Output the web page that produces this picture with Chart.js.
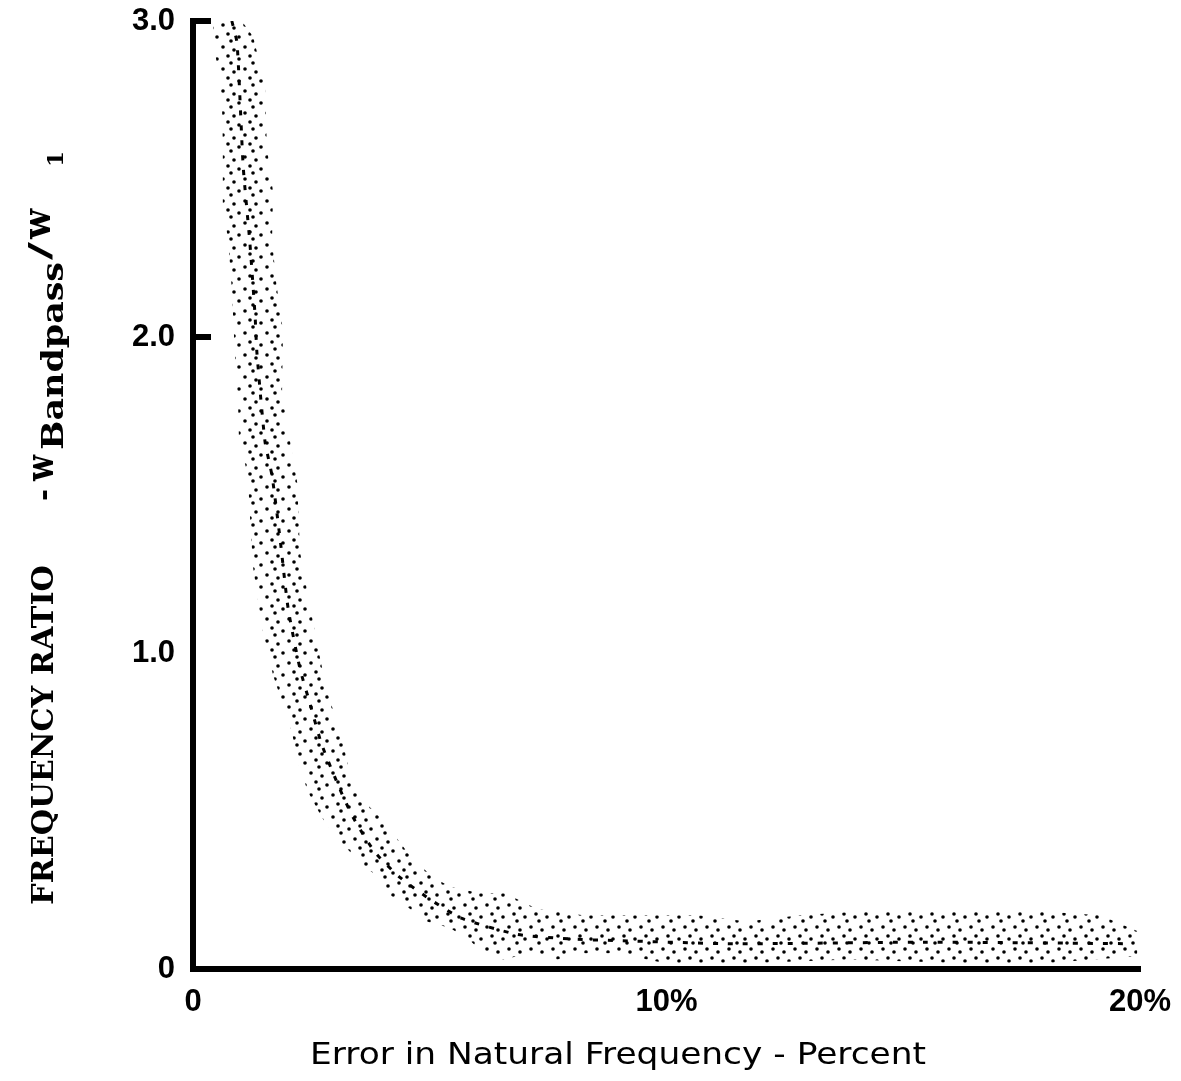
<!DOCTYPE html>
<html>
<head>
<meta charset="utf-8">
<title>Frequency ratio vs error in natural frequency</title>
<script src="https://cdn.jsdelivr.net/npm/chart.js@4.4.1/dist/chart.umd.min.js"></script>
<style>
  html, body { margin: 0; padding: 0; background: #fff; }
  #wrap { position: relative; width: 1181px; height: 1081px; }
</style>
</head>
<body>
<div id="wrap"><canvas id="chart"></canvas></div>
<script>
// scatter band: outer (right/upper) edge, inner (left/lower) edge
const upperX = [1.03, 1.27, 1.52, 1.56, 1.69, 1.67, 1.75, 1.90, 1.88, 2.05, 2.20, 2.26, 2.43, 2.66, 2.83, 3.15, 3.32, 3.48, 3.95, 4.27, 4.63, 5.07, 5.43, 6.06, 6.59, 7.27, 8.24, 9.29, 10.67, 11.70, 12.82, 13.88, 14.93, 15.99, 17.04, 18.10, 19.16, 19.94];
const upperY = [3.00, 2.95, 2.80, 2.60, 2.46, 2.31, 2.18, 2.02, 1.82, 1.67, 1.54, 1.32, 1.18, 1.00, 0.88, 0.73, 0.61, 0.55, 0.48, 0.42, 0.35, 0.29, 0.26, 0.24, 0.24, 0.19, 0.17, 0.17, 0.17, 0.15, 0.17, 0.18, 0.18, 0.18, 0.18, 0.18, 0.17, 0.12];
const lowerX = [0.42, 0.46, 0.61, 0.63, 0.63, 0.74, 0.82, 0.89, 0.95, 0.97, 1.16, 1.20, 1.27, 1.46, 1.69, 2.09, 2.20, 2.43, 2.72, 3.00, 3.32, 3.57, 3.84, 4.10, 4.41, 4.94, 5.43, 5.85, 6.06, 6.55, 7.12, 7.69, 8.24, 8.95, 9.93, 10.56, 11.97, 13.88, 15.99, 18.10, 19.94];
const lowerY = [3.00, 2.91, 2.75, 2.61, 2.41, 2.31, 2.15, 1.93, 1.80, 1.68, 1.56, 1.44, 1.27, 1.08, 0.93, 0.75, 0.66, 0.56, 0.48, 0.42, 0.37, 0.33, 0.30, 0.24, 0.21, 0.15, 0.13, 0.09, 0.06, 0.03, 0.05, 0.03, 0.05, 0.05, 0.02, 0.02, 0.02, 0.03, 0.02, 0.02, 0.04];

// darker clumps along the middle of the band
const centerX = [0.82, 0.93, 1.06, 1.20, 1.31, 1.35, 1.52, 1.67, 1.84, 2.01, 2.26, 2.47, 2.72, 3.10, 3.38, 3.84, 4.37, 5.01, 5.68, 6.84, 7.96, 8.95, 11.40, 15.50, 19.79];
const centerY = [3.00, 2.93, 2.54, 2.30, 2.07, 1.95, 1.67, 1.56, 1.36, 1.14, 0.95, 0.84, 0.71, 0.57, 0.48, 0.37, 0.29, 0.22, 0.16, 0.11, 0.095, 0.09, 0.08, 0.085, 0.08];

const xTicks = [0, 10, 20];
const xTickLabels = ['0', '10%', '20%'];
const yTicks = [0, 1, 2, 3];
const yTickLabels = ['0', '1.0', '2.0', '3.0'];
const yTickMarks = [2, 3];

const xTitle = 'Error in Natural Frequency - Percent';
// y title pieces: text, offset along the axis from the bottom, length, baseline shift, font size
const yTitleParts = [
  { text: 'FREQUENCY RATIO', at: 0, len: 340, shift: 0, size: 30 },
  { text: '-', at: 404, len: 12, shift: 0, size: 30 },
  { text: 'w', at: 424, len: 26, shift: 0, size: 40 },
  { text: 'Bandpass', at: 455, len: 188, shift: 10, size: 30 },
  { text: '/', at: 645, len: 18, shift: -3, size: 30 },
  { text: 'w', at: 666, len: 30, shift: -3, size: 40 },
  { text: '1', at: 738, len: 16, shift: 10, size: 22 },
];

const band = upperX.map((x, i) => ({ x, y: upperY[i] }))
  .concat(lowerX.map((x, i) => ({ x, y: lowerY[i] })).reverse());
const center = centerX.map((x, i) => ({ x, y: centerY[i] }));

// stippled fill like the halftone dots of the original
function stipple() {
  const c = document.createElement('canvas');
  c.width = 22;
  c.height = 22;
  const g = c.getContext('2d');
  g.fillStyle = '#000';
  [[3, 3], [14, 6], [8, 12], [19, 15], [11, 19]].forEach(([px, py]) => {
    g.beginPath();
    g.arc(px, py, 1.8, 0, Math.PI * 2);
    g.fill();
  });
  return g.createPattern(c, 'repeat');
}

const axisDecor = {
  id: 'axisDecor',
  afterDraw(chart) {
    const { ctx, scales: { x, y } } = chart;
    ctx.save();
    ctx.strokeStyle = '#000';
    ctx.lineWidth = 6;
    yTickMarks.forEach(v => {
      const py = y.getPixelForValue(v);
      ctx.beginPath();
      ctx.moveTo(x.left, py);
      ctx.lineTo(x.left + 18, py);
      ctx.stroke();
    });

    ctx.fillStyle = '#000';
    ctx.font = '30px "DejaVu Sans"';
    ctx.textAlign = 'left';
    ctx.textBaseline = 'middle';
    const tw = ctx.measureText(xTitle).width;
    ctx.save();
    ctx.translate(310, 1056);
    ctx.scale(616 / tw, 1);
    ctx.fillText(xTitle, 0, 0);
    ctx.restore();

    ctx.translate(53, 905);
    ctx.rotate(-Math.PI / 2);
    ctx.textBaseline = 'alphabetic';
    yTitleParts.forEach(p => {
      ctx.font = `bold ${p.size}px "DejaVu Serif"`;
      const w = ctx.measureText(p.text).width;
      ctx.save();
      ctx.translate(p.at, p.shift);
      ctx.scale(p.len / w, 1);
      ctx.fillText(p.text, 0, 0);
      ctx.restore();
    });
    ctx.restore();
  }
};

const tickFont = { family: '"Liberation Sans", sans-serif', size: 31, weight: 'bold' };

new Chart(document.getElementById('chart'), {
  type: 'line',
  data: {
    datasets: [{
      data: band,
      fill: 'shape',
      backgroundColor: stipple(),
      borderWidth: 0,
      pointRadius: 0,
      tension: 0,
    }, {
      data: center,
      fill: false,
      borderColor: '#000',
      borderWidth: 3,
      borderDash: [5, 10],
      pointRadius: 0,
      tension: 0.2,
    }]
  },
  options: {
    responsive: true,
    maintainAspectRatio: false,
    animation: false,
    layout: { padding: { top: 21, right: 41, left: 0, bottom: 0 } },
    plugins: { legend: { display: false }, tooltip: { enabled: false } },
    scales: {
      x: {
        type: 'linear',
        min: 0,
        max: 20,
        afterBuildTicks: s => { s.ticks = xTicks.map(v => ({ value: v })); },
        afterFit: s => { s.height = 112; s.paddingLeft = 0; s.paddingRight = 0; },
        ticks: {
          callback: v => xTickLabels[xTicks.indexOf(v)],
          color: '#000',
          font: tickFont,
          padding: 15,
          maxRotation: 0,
          autoSkip: false,
        },
        grid: { display: true, drawOnChartArea: false, drawTicks: false },
        border: { display: true, width: 6, color: '#000' },
      },
      y: {
        type: 'linear',
        min: 0,
        max: 3,
        afterBuildTicks: s => { s.ticks = yTicks.map(v => ({ value: v })); },
        afterFit: s => { s.width = 193; s.paddingTop = 0; s.paddingBottom = 0; },
        ticks: {
          callback: v => yTickLabels[yTicks.indexOf(v)],
          color: '#000',
          font: tickFont,
          padding: 18,
          autoSkip: false,
        },
        grid: { display: true, drawOnChartArea: false, drawTicks: false },
        border: { display: true, width: 6, color: '#000' },
      }
    }
  },
  plugins: [axisDecor]
});
</script>
</body>
</html>
